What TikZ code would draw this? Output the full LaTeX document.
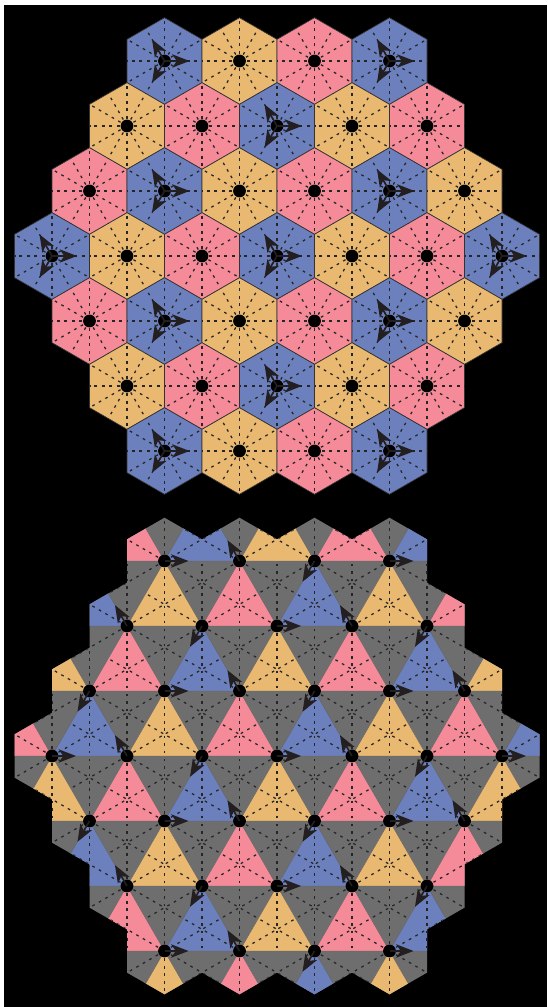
\documentclass[tikz,border=0pt]{standalone}
\usetikzlibrary{arrows.meta}
\usetikzlibrary{calc}
\definecolor{tone0}{HTML}{6C80BE}
\definecolor{tone1}{HTML}{E9B971}
\definecolor{tone2}{HTML}{F58B99}
\definecolor{gridgray}{HTML}{6E6E6E}
\definecolor{arrowtone}{HTML}{231F20}
\tikzset{
    hexcell/.style={draw=black!80,line width=0.5pt},
    tricell/.style={draw=black!60,line width=0.35pt},
    spoke/.style={black!85,line width=0.95pt,dash pattern=on 2pt off 3.6pt},
    latticedot/.style={circle,fill=black,inner sep=0pt,minimum size=9.6pt},
    flowarrow/.style={-{Stealth[length=13pt,width=10pt,inset=3.5pt]},arrowtone,line width=1.2pt}
}
% row / first column / next column / last column
\newcommand{\hexrows}{0/3/5/9,1/2/4/10,2/1/3/11,3/0/2/12,4/1/3/11,5/2/4/10,6/3/5/9}
\begin{document}
\begin{tikzpicture}[x=0.75pt,y=0.75pt]
    \useasboundingbox (0,0) rectangle (547,1007);
    \fill[black] (4,0) rectangle (547,1002);
    % hexagon cells
    \begin{scope}[shift={(52,946)}]
        \foreach \row/\first/\nxt/\last in \hexrows {
            \foreach \col in {\first,\nxt,...,\last} {
                \pgfmathtruncatemacro{\shade}{mod(2*\col,3)}
                \begin{scope}[shift={(\col*37.5,-\row*65)}]
                    \draw[hexcell,fill=tone\shade] (30:43.3) -- (90:43.3) -- (150:43.3) -- (210:43.3) -- (270:43.3) -- (330:43.3) -- cycle;
                    \foreach \ang in {0,60,...,300} {
                        \draw[spoke] (0,0) -- (\ang:37.5);
                        \draw[spoke] (0,0) -- (\ang+30:43.3);
                    }
                    \node[latticedot] (hexdot-\row-\col) at (0,0) {};
                    \ifnum\shade=0
                        \foreach \ang in {0,120,240} {
                            \coordinate (hextip-\row-\col-\ang) at (\ang:25);
                            \draw[flowarrow] (hexdot-\row-\col.center) -- (hextip-\row-\col-\ang);
                        }
                    \fi
                \end{scope}
            }
        }
    \end{scope}
    % triangle cells
    \begin{scope}[shift={(52,446)}]
        \begin{scope}
            \clip \foreach \row/\first/\nxt/\last in \hexrows {
                \foreach \col in {\first,\nxt,...,\last} {
                    (\col*37.5+37.5,-\row*65+21.65) -- (\col*37.5,-\row*65+43.3) -- (\col*37.5-37.5,-\row*65+21.65) -- (\col*37.5-37.5,-\row*65-21.65) -- (\col*37.5,-\row*65-43.3) -- (\col*37.5+37.5,-\row*65-21.65) -- cycle
                }
            };
            \fill[gridgray] (-50,60) rectangle (500,-460);
            \foreach \row in {-1,...,6} {
                \foreach \col in {-1,...,13} {
                    \pgfmathtruncatemacro{\odd}{mod(\row+\col+2,2)}
                    \ifnum\odd=1
                        \pgfmathtruncatemacro{\shade}{mod(2*\col+7,3)}
                        \draw[tricell,fill=tone\shade] (\col*37.5,-\row*65) -- (\col*37.5+37.5,-\row*65-65) -- (\col*37.5-37.5,-\row*65-65) -- cycle;
                    \fi
                }
            }
            \foreach \row/\first/\nxt/\last in \hexrows {
                \foreach \col in {\first,\nxt,...,\last} {
                    \foreach \ang in {30,90,...,330} {
                        \draw[spoke] (\col*37.5,-\row*65) -- ++(\ang:65);
                    }
                }
            }
        \end{scope}
        \foreach \row/\first/\nxt/\last in \hexrows {
            \foreach \col in {\first,\nxt,...,\last} {
                \pgfmathtruncatemacro{\shade}{mod(2*\col,3)}
                \pgfmathtruncatemacro{\ang}{120*\shade}
                \node[latticedot] (tridot-\row-\col) at (\col*37.5,-\row*65) {};
                \coordinate (tritip-\row-\col) at ($(\col*37.5,-\row*65)+(\ang:24)$);
                \draw[flowarrow] (tridot-\row-\col.center) -- (tritip-\row-\col);
            }
        }
    \end{scope}
\end{tikzpicture}
\end{document}
